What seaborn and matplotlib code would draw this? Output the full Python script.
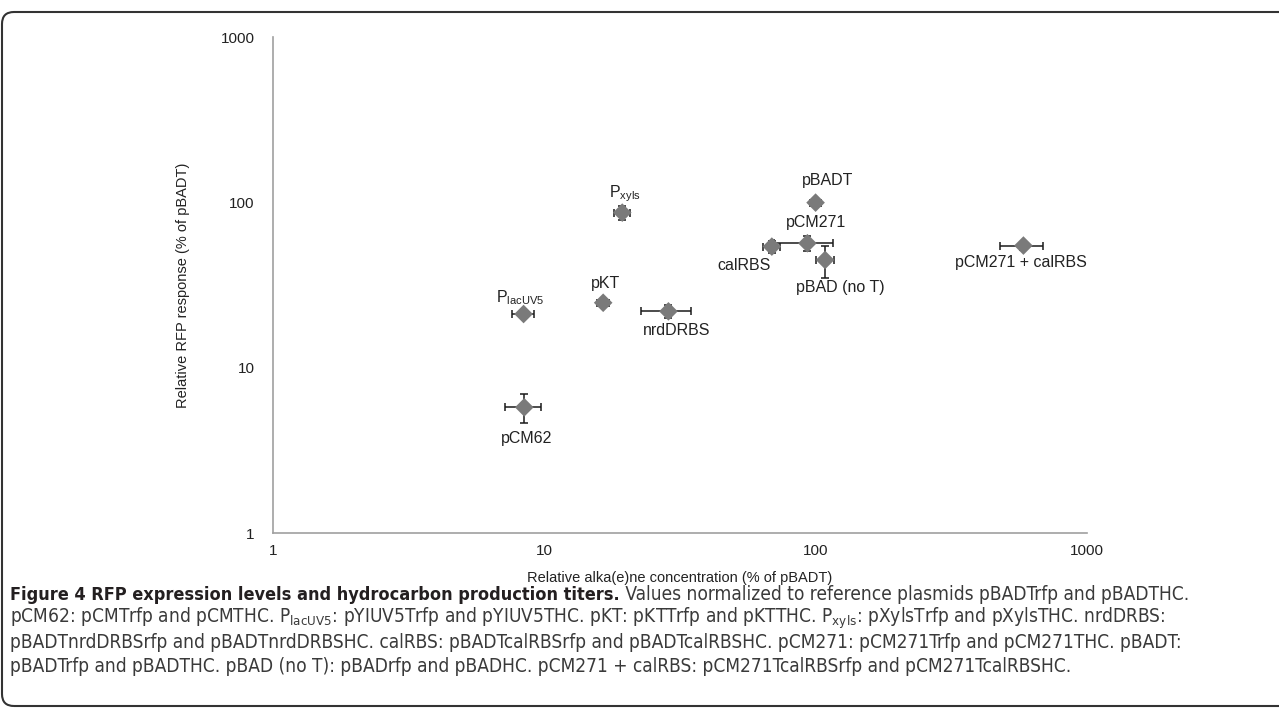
import numpy as np
import pandas as pd
import matplotlib
matplotlib.use("Agg")
import matplotlib.pyplot as plt
import seaborn as sns
from matplotlib import font_manager
from matplotlib.font_manager import FontProperties
from matplotlib.patches import FancyBboxPatch

# valeurs (% de pBADT)
constructs = ["pCM62", "PlacUV5", "pKT", "Pxyls", "nrdDRBS", "calRBS",
              "pCM271", "pBADT", "pBAD (no T)", "pCM271 + calRBS"]
point_labels = ["pCM62", r"P$_{\mathregular{lacUV5}}$", "pKT", r"P$_{\mathregular{xyls}}$",
                "nrdDRBS", "calRBS", "pCM271", "pBADT", "pBAD (no T)", "pCM271 + calRBS"]
alkene = [8.45, 8.4, 16.5, 19.4, 28.7, 69.0, 93.3, 100.0, 108.4, 583.0]
alkene_err = [1.27, 0.8, 0.8, 1.25, 6.0, 5.0, 23.0, 5.0, 8.3, 106.0]
rfp = [5.78, 21.2, 24.8, 87.0, 22.0, 54.2, 56.8, 100.0, 45.0, 55.0]
rfp_err = [1.15, 0.8, 1.0, 8.8, 1.9, 4.5, 5.8, 2.0, 10.0, 3.0]

x_ticks = [1, 10, 100, 1000]
y_ticks = [1, 10, 100, 1000]

df = pd.DataFrame({"construct": constructs, "label": point_labels,
                   "alkene": alkene, "alkene_err": alkene_err,
                   "rfp": rfp, "rfp_err": rfp_err})

# decalage des etiquettes (pixels)
offsets = {"pCM62": (2, -31), "PlacUV5": (-3, 16), "pKT": (2, 19), "Pxyls": (3, 19),
           "nrdDRBS": (8, -19), "calRBS": (-28, -19), "pCM271": (9, 21),
           "pBADT": (12, 22), "pBAD (no T)": (15, -28), "pCM271 + calRBS": (-2, -17)}

sns.set_style("white")
plt.rcParams["font.family"] = ["Liberation Sans", "DejaVu Sans"]
plt.rcParams["mathtext.fontset"] = "custom"
plt.rcParams["mathtext.rm"] = "Liberation Sans"

fig = plt.figure(figsize=(12.79, 7.09), dpi=100)
ax = fig.add_axes([0.2132, 0.2478, 0.6367, 0.6996])

ax.errorbar(df["alkene"], df["rfp"], xerr=df["alkene_err"], yerr=df["rfp_err"],
            fmt="none", ecolor="#1a1a1a", elinewidth=1.1, capsize=3.2, capthick=1.1, zorder=2)
sns.scatterplot(data=df, x="alkene", y="rfp", marker="D", s=90, color="#7a7a7a",
                edgecolor="none", ax=ax, zorder=3, legend=False)

for _, row in df.iterrows():
    dx, dy = offsets[row["construct"]]
    ax.annotate(row["label"], (row["alkene"], row["rfp"]), xytext=(dx, dy),
                textcoords="offset pixels", ha="center", va="center",
                fontsize=11.5, color="#222222")

ax.set_xscale("log")
ax.set_yscale("log")
ax.set_xlim(1, 1000)
ax.set_ylim(1, 1000)
ax.set_xticks(x_ticks)
ax.set_xticklabels([str(t) for t in x_ticks])
ax.set_yticks(y_ticks)
ax.set_yticklabels([str(t) for t in y_ticks])
ax.minorticks_off()
ax.tick_params(axis="both", direction="out", length=4, width=1, color="#a0a0a0",
               labelsize=11, labelcolor="#222222")
ax.tick_params(axis="y", pad=9)
ax.tick_params(axis="x", pad=4)
for side in ["top", "right"]:
    ax.spines[side].set_visible(False)
for side in ["left", "bottom"]:
    ax.spines[side].set_color("#a0a0a0")
    ax.spines[side].set_linewidth(1.2)

ax.set_xlabel("Relative alka(e)ne concentration (% of pBADT)", fontsize=10.5,
              color="#222222", labelpad=9)
ax.set_ylabel("Relative RFP response (% of pBADT)", fontsize=10.5,
              color="#222222", labelpad=22)

# cadre arrondi
frame = FancyBboxPatch((2, 3), 1300, 694, boxstyle="round,pad=0,rounding_size=12",
                       transform=None, fill=False, edgecolor="#333333", linewidth=1.5,
                       clip_on=False)
fig.patches.append(frame)


# police etroite pour la legende si disponible
def narrow_font(bold):
    best = None
    for f in font_manager.fontManager.ttflist:
        w = f.weight if isinstance(f.weight, int) else font_manager.weight_dict.get(f.weight, 400)
        narrow = ("Narrow" in f.name or "Condensed" in f.name
                  or f.stretch in ("condensed", "semi-condensed"))
        if not narrow or f.style != "normal" or "Mono" in f.name or "Serif" in f.name:
            continue
        if (w >= 600) != bold or w in (100, 200, 300, 800, 900):
            continue
        if best is None or abs(w - (700 if bold else 400)) < abs(best[1] - (700 if bold else 400)):
            best = (f.fname, w)
    return best[0] if best else None


reg_file, bold_file = narrow_font(False), narrow_font(True)
if reg_file and bold_file:
    fp_reg, fp_bold = FontProperties(fname=reg_file), FontProperties(fname=bold_file)
else:
    fp_reg = FontProperties(family="Liberation Sans")
    fp_bold = FontProperties(family="Liberation Sans", weight="bold")

caption = [
    [("Figure 4 RFP expression levels and hydrocarbon production titers.", "bold"),
     (" Values normalized to reference plasmids pBADTrfp and pBADTHC.", "normal")],
    [(r"pCM62: pCMTrfp and pCMTHC. P$_{\mathregular{lacUV5}}$: pYIUV5Trfp and pYIUV5THC. "
      r"pKT: pKTTrfp and pKTTHC. P$_{\mathregular{xyls}}$: pXylsTrfp and pXylsTHC. nrdDRBS:", "normal")],
    [("pBADTnrdDRBSrfp and pBADTnrdDRBSHC. calRBS: pBADTcalRBSrfp and pBADTcalRBSHC. "
      "pCM271: pCM271Trfp and pCM271THC. pBADT:", "normal")],
    [("pBADTrfp and pBADTHC. pBAD (no T): pBADrfp and pBADHC. pCM271 + calRBS: "
      "pCM271TcalRBSrfp and pCM271TcalRBSHC.", "normal")],
]
renderer = fig.canvas.get_renderer()
W, H = fig.get_size_inches() * fig.dpi

# taille ajustee pour que la 2e ligne couvre la meme largeur que l'original
probe = fig.text(0, 0, caption[1][0][0], fontproperties=fp_reg, fontsize=12)
probe_w = probe.get_window_extent(renderer).width
probe.remove()
cap_size = float(np.clip(12 * 1150 / probe_w, 10, 14.5))

line_y = [114, 91, 67, 43]
for segs, y in zip(caption, line_y):
    x = 10
    for txt, weight in segs:
        fp = fp_bold if weight == "bold" else fp_reg
        size = cap_size * 0.95 if weight == "bold" else cap_size
        t = fig.text(x / W, y / H, txt, fontproperties=fp, fontsize=size,
                     color="#231f20" if weight == "bold" else "#3a3a3a",
                     ha="left", va="center")
        x = t.get_window_extent(renderer).x1

fig.savefig("out.png", dpi=100)
